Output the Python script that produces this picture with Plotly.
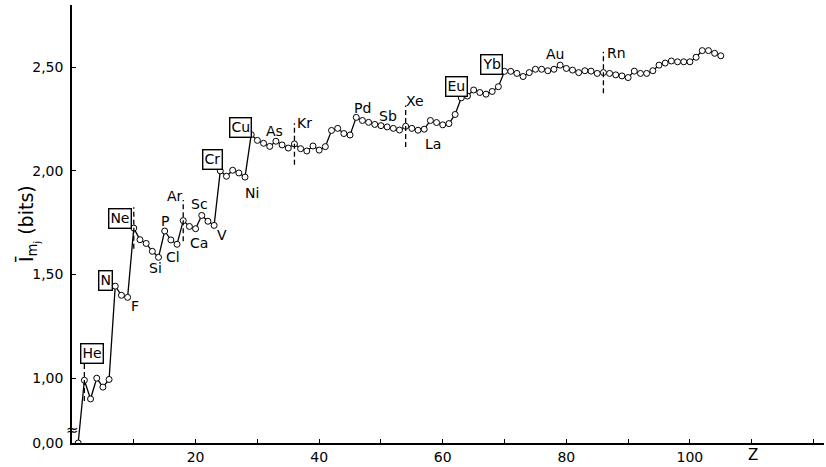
import plotly.graph_objects as go

# ---------------- data ----------------
Z = list(range(1, 106))
I_MJ = [
    0.00, 0.99, 0.90, 1.00, 0.957, 0.994, 1.444, 1.40, 1.39, 1.724,
    1.668, 1.65, 1.612, 1.583, 1.71, 1.667, 1.646, 1.76, 1.732, 1.721,
    1.785, 1.757, 1.737, 2.00, 1.974, 2.003, 1.99, 1.97, 2.175, 2.147,
    2.133, 2.118, 2.143, 2.125, 2.11, 2.13, 2.107, 2.096, 2.12, 2.10,
    2.117, 2.195, 2.205, 2.18, 2.173, 2.258, 2.243, 2.234, 2.224, 2.218,
    2.212, 2.205, 2.197, 2.215, 2.205, 2.196, 2.201, 2.243, 2.233, 2.222,
    2.228, 2.272, 2.352, 2.361, 2.39, 2.378, 2.37, 2.383, 2.406, 2.48,
    2.48, 2.47, 2.455, 2.474, 2.49, 2.49, 2.483, 2.49, 2.51, 2.494,
    2.486, 2.474, 2.483, 2.481, 2.47, 2.474, 2.47, 2.463, 2.458, 2.45,
    2.481, 2.47, 2.47, 2.483, 2.51, 2.52, 2.53, 2.526, 2.526, 2.526,
    2.548, 2.58, 2.58, 2.567, 2.555,
]
NOBLE_Z = [2, 10, 18, 36, 54, 86]
LABEL_Z = [2, 7, 9, 10, 14, 15, 17, 18, 20, 21, 23, 24, 28, 29, 33, 36,
           46, 51, 54, 57, 63, 70, 79, 86]
LABEL_TEXT = ["He", "N", "F", "Ne", "Si", "P", "Cl", "Ar", "Ca", "Sc", "V",
              "Cr", "Ni", "Cu", "As", "Kr", "Pd", "Sb", "Xe", "La", "Eu",
              "Yb", "Au", "Rn"]
BOXED = ["He", "N", "Ne", "Cr", "Cu", "Eu", "Yb"]
Y_TICKS = [0.0, 1.0, 1.5, 2.0, 2.5]
Y_TICK_TEXT = ["0,00", "1,00", "1,50", "2,00", "2,50"]
X_TICKS = [20, 40, 60, 80, 100]
X_TICK_TEXT = ["20", "40", "60", "80", "100"]

# ---------------- styling / layout (not data) ----------------
LABEL_OFFSETS = {  # (xshift, yshift) in px relative to the point
    "He": (8, 27), "N": (-10, 6), "F": (7, -9), "Ne": (-14, 10),
    "Si": (-3, -11), "P": (0, 10), "Cl": (-4, -13), "Ar": (-8, 25),
    "Ca": (3, -14), "Sc": (-2, 11), "V": (8, -10), "Cr": (-8, 11),
    "Ni": (7, -16), "Cu": (-11, 7), "As": (-1, 10), "Kr": (10, 21),
    "Pd": (6, 9), "Sb": (1, 11), "Xe": (9, 25), "La": (9, -15),
    "Eu": (-5, 11), "Yb": (-13, 7), "Au": (-5, 11), "Rn": (13, 20),
}
Y_BOTTOM = 0.6875      # display position of the broken-axis zero
BREAK_AT = 0.8         # values below this are compressed (axis break)
Y_TOP = 2.80
X_MAX = 121.7
FONT = "DejaVu Sans"


def disp(v):
    """Broken y axis: compress [0, BREAK_AT] into [Y_BOTTOM, BREAK_AT]."""
    if v >= BREAK_AT:
        return v
    return Y_BOTTOM + v * (BREAK_AT - Y_BOTTOM) / BREAK_AT


y_disp = [disp(v) for v in I_MJ]

fig = go.Figure()
fig.add_trace(go.Scatter(
    x=Z, y=y_disp, mode="lines+markers",
    line=dict(color="black", width=1.3),
    marker=dict(symbol="circle", size=6, color="white",
                line=dict(color="black", width=1)),
    hoverinfo="skip", showlegend=False,
))

shapes = []
for z in NOBLE_Z:
    v = y_disp[Z.index(z)]
    shapes.append(dict(type="line", xref="x", yref="y", x0=z, x1=z,
                       y0=v - 0.1, y1=v + 0.1, layer="above",
                       line=dict(color="black", width=1.3,
                                 dash="5px,3px")))

annotations = []
for z, t in zip(LABEL_Z, LABEL_TEXT):
    dx, dy = LABEL_OFFSETS[t]
    boxed = t in BOXED
    annotations.append(dict(
        x=z, y=y_disp[Z.index(z)], xref="x", yref="y", text=t,
        showarrow=False, xshift=dx, yshift=dy,
        font=dict(family=FONT, size=14, color="black"),
        bordercolor="black" if boxed else "rgba(0,0,0,0)",
        borderwidth=1.4 if boxed else 0, borderpad=1,
        bgcolor="white" if boxed else "rgba(0,0,0,0)",
    ))

# axis title, Z label and break symbol
annotations.append(dict(
    x=0, y=0.50, xref="paper", yref="paper", xshift=-60, textangle=-90,
    text="Ī<sub>m<sub>j</sub></sub> (bits)", showarrow=False,
    font=dict(family=FONT, size=19, color="black"),
))
annotations.append(dict(
    x=110.2, y=Y_BOTTOM, xref="x", yref="y", yshift=-12, text="Z",
    showarrow=False, font=dict(family=FONT, size=15, color="black"),
))
annotations.append(dict(
    x=0, y=0.75, xref="x", yref="y", text="≈", showarrow=False,
    font=dict(family=FONT, size=15, color="black"),
))

fig.update_layout(
    width=826, height=467,
    margin=dict(l=72, r=2, t=5, b=22),
    paper_bgcolor="white", plot_bgcolor="white",
    shapes=shapes, annotations=annotations,
    xaxis=dict(range=[0, X_MAX], showgrid=False, zeroline=False,
               showline=True, linecolor="black", linewidth=1.5,
               tickmode="array", tickvals=X_TICKS, ticktext=X_TICK_TEXT,
               ticks="inside", ticklen=4, tickcolor="black",
               minor=dict(dtick=10, tick0=0, ticks="inside", ticklen=4,
                          tickcolor="black", showgrid=False),
               tickfont=dict(family=FONT, size=14, color="black")),
    yaxis=dict(range=[Y_BOTTOM, Y_TOP], showgrid=False, zeroline=False,
               showline=True, linecolor="black", linewidth=1.5,
               tickmode="array", tickvals=[disp(v) for v in Y_TICKS],
               ticktext=Y_TICK_TEXT, ticks="inside", ticklen=4,
               tickcolor="black", ticklabelstandoff=4,
               tickfont=dict(family=FONT, size=14, color="black")),
)

fig.write_html("out.html", config={"displayModeBar": False},
               post_script="document.body.style.margin='0';"
                           "document.body.style.padding='0';")
